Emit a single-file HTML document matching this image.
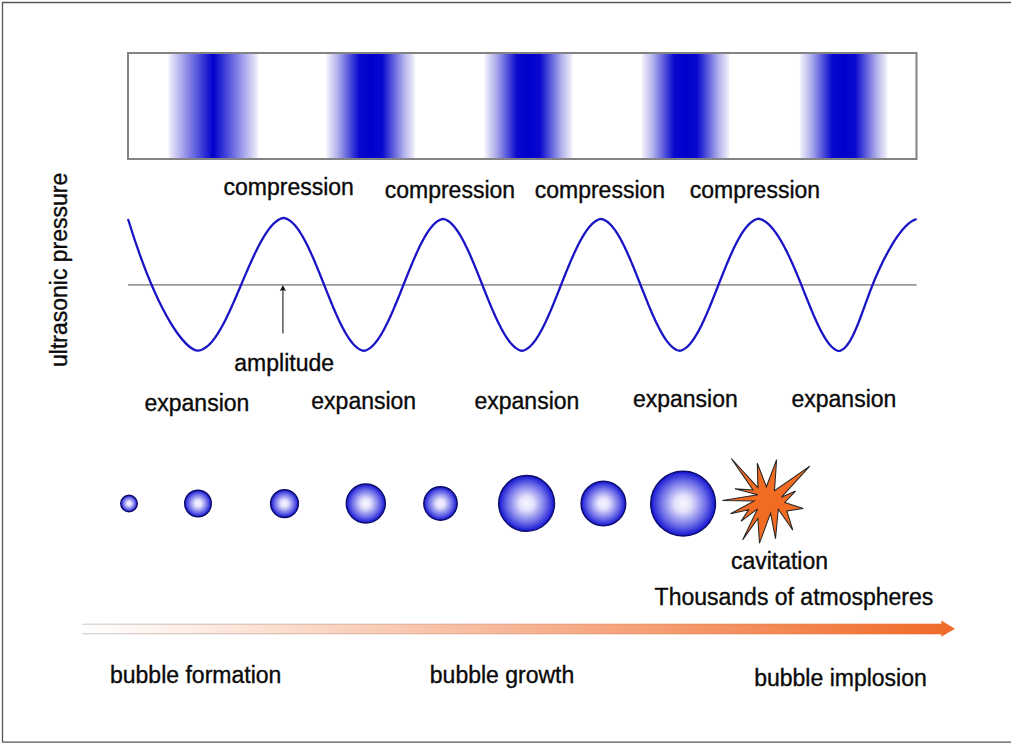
<!DOCTYPE html>
<html><head><meta charset="utf-8">
<style>
html,body{margin:0;padding:0;background:#fff;}
body{width:1011px;height:744px;overflow:hidden;position:relative;}
svg{position:absolute;left:0;top:0;}
text{font-family:"Liberation Sans", sans-serif;font-size:23px;fill:#0a0a0a;stroke:#0a0a0a;stroke-width:0.35px;}
</style></head><body>
<svg width="1011" height="744" viewBox="0 0 1011 744">
<defs>
<linearGradient id="b1" x1="0" x2="1" y1="0" y2="0">
<stop offset="0" stop-color="#f2f0fb"/><stop offset="0.5" stop-color="#0000cc"/><stop offset="1" stop-color="#f2f0fb"/>
</linearGradient>
<linearGradient id="b2" x1="0" x2="1" y1="0" y2="0">
<stop offset="0" stop-color="#f4f2fb"/><stop offset="0.12" stop-color="#b4b4ec"/><stop offset="0.25" stop-color="#5a5adc"/><stop offset="0.37" stop-color="#0808cf"/><stop offset="0.5" stop-color="#0000cc"/><stop offset="0.63" stop-color="#0808cf"/><stop offset="0.75" stop-color="#5a5adc"/><stop offset="0.88" stop-color="#b4b4ec"/><stop offset="1" stop-color="#f4f2fb"/>
</linearGradient>
<radialGradient id="bub" cx="0.5" cy="0.5" r="0.5">
<stop offset="0" stop-color="#f8f6ff"/><stop offset="0.25" stop-color="#e4e2fb"/><stop offset="0.7" stop-color="#6d6de8"/><stop offset="1" stop-color="#1414d2"/>
</radialGradient>
<linearGradient id="arr" x1="82" x2="955" y1="0" y2="0" gradientUnits="userSpaceOnUse">
<stop offset="0" stop-color="#ffffff"/><stop offset="1" stop-color="#f06a28"/>
</linearGradient>
<linearGradient id="arrl" x1="82" x2="941" y1="0" y2="0" gradientUnits="userSpaceOnUse">
<stop offset="0" stop-color="#c8c8c8"/><stop offset="0.5" stop-color="#e0a890"/><stop offset="1" stop-color="#f06a28"/>
</linearGradient>
</defs>
<!-- page border -->
<path d="M2.5 742.6 L2.5 2.5 L1011 2.5 M2.5 742.1 L1011 742.1" fill="none" stroke="#555" stroke-width="1.3"/>
<!-- pressure box bands -->
<rect x="168.6" y="54" width="89.3" height="104" fill="url(#b1)"/>
<rect x="326.4" y="54" width="88.6" height="104" fill="url(#b2)"/>
<rect x="484.5" y="54" width="88" height="104" fill="url(#b2)"/>
<rect x="641.9" y="54" width="87.5" height="104" fill="url(#b2)"/>
<rect x="799.9" y="54" width="87.5" height="104" fill="url(#b2)"/>
<rect x="128" y="53" width="788.5" height="106" fill="none" stroke="#838383" stroke-width="2"/>
<!-- compression labels -->
<text x="223.5" y="194.5">compression</text>
<text x="384.7" y="197.9">compression</text>
<text x="534.7" y="197.9">compression</text>
<text x="689.7" y="197.9">compression</text>
<!-- axis -->
<line x1="128" y1="284.8" x2="916.7" y2="284.8" stroke="#999" stroke-width="1.8"/>
<!-- wave -->
<path d="M128 219 C158.55 318.35 186.4 350.6 198.4 350.6 L199.15 350.45 L199.90 350.27 L200.65 350.05 L201.40 349.78 L202.15 349.48 L202.90 349.13 L203.65 348.74 L204.40 348.31 L205.15 347.83 L205.90 347.31 L206.65 346.75 L207.40 346.15 L208.15 345.50 L208.90 344.81 L209.65 344.08 L210.40 343.31 L211.15 342.50 L211.90 341.64 L212.65 340.75 L213.40 339.81 L214.15 338.84 L214.90 337.83 L215.65 336.77 L216.40 335.68 L217.15 334.56 L217.90 333.39 L218.65 332.19 L219.40 330.96 L220.15 329.69 L220.90 328.39 L221.65 327.06 L222.40 325.69 L223.15 324.29 L223.90 322.87 L224.65 321.42 L225.40 319.93 L226.15 318.43 L226.90 316.89 L227.65 315.34 L228.40 313.76 L229.15 312.16 L229.90 310.54 L230.65 308.90 L231.40 307.24 L232.15 305.57 L232.90 303.88 L233.65 302.17 L234.40 300.46 L235.15 298.73 L235.90 297.00 L236.65 295.25 L237.40 293.50 L238.15 291.74 L238.90 289.98 L239.65 288.22 L240.40 286.45 L241.15 284.68 L241.90 282.92 L242.65 281.15 L243.40 279.39 L244.15 277.63 L244.90 275.88 L245.65 274.13 L246.40 272.40 L247.15 270.67 L247.90 268.95 L248.65 267.24 L249.40 265.54 L250.15 263.86 L250.90 262.19 L251.65 260.53 L252.40 258.89 L253.15 257.27 L253.90 255.67 L254.65 254.09 L255.40 252.53 L256.15 250.99 L256.90 249.48 L257.65 247.99 L258.40 246.52 L259.15 245.08 L259.90 243.67 L260.65 242.28 L261.40 240.93 L262.15 239.60 L262.90 238.31 L263.65 237.04 L264.40 235.81 L265.15 234.62 L265.90 233.46 L266.65 232.33 L267.40 231.24 L268.15 230.19 L268.90 229.17 L269.65 228.20 L270.40 227.26 L271.15 226.36 L271.90 225.51 L272.65 224.69 L273.40 223.92 L274.15 223.19 L274.90 222.51 L275.65 221.86 L276.40 221.27 L277.15 220.71 L277.90 220.21 L278.65 219.75 L279.40 219.34 L280.15 218.97 L280.90 218.65 L281.65 218.38 L282.40 218.16 L283.15 217.98 L283.90 217.95 L284.65 218.12 L285.40 218.33 L286.15 218.60 L286.90 218.91 L287.65 219.27 L288.40 219.69 L289.15 220.15 L289.90 220.66 L290.65 221.22 L291.40 221.83 L292.15 222.49 L292.90 223.19 L293.65 223.95 L294.40 224.75 L295.15 225.60 L295.90 226.49 L296.65 227.43 L297.40 228.42 L298.15 229.45 L298.90 230.53 L299.65 231.64 L300.40 232.80 L301.15 234.01 L301.90 235.25 L302.65 236.53 L303.40 237.85 L304.15 239.21 L304.90 240.61 L305.65 242.04 L306.40 243.50 L307.15 245.00 L307.90 246.53 L308.65 248.09 L309.40 249.68 L310.15 251.30 L310.90 252.95 L311.65 254.62 L312.40 256.32 L313.15 258.03 L313.90 259.78 L314.65 261.54 L315.40 263.31 L316.15 265.11 L316.90 266.92 L317.65 268.75 L318.40 270.59 L319.15 272.43 L319.90 274.29 L320.65 276.16 L321.40 278.03 L322.15 279.91 L322.90 281.79 L323.65 283.67 L324.40 285.55 L325.15 287.43 L325.90 289.31 L326.65 291.19 L327.40 293.06 L328.15 294.93 L328.90 296.79 L329.65 298.64 L330.40 300.48 L331.15 302.31 L331.90 304.12 L332.65 305.91 L333.40 307.69 L334.15 309.46 L334.90 311.20 L335.65 312.92 L336.40 314.62 L337.15 316.29 L337.90 317.94 L338.65 319.56 L339.40 321.15 L340.15 322.71 L340.90 324.24 L341.65 325.74 L342.40 327.21 L343.15 328.64 L343.90 330.03 L344.65 331.39 L345.40 332.71 L346.15 333.99 L346.90 335.23 L347.65 336.43 L348.40 337.58 L349.15 338.69 L349.90 339.76 L350.65 340.79 L351.40 341.77 L352.15 342.70 L352.90 343.58 L353.65 344.42 L354.40 345.21 L355.15 345.94 L355.90 346.63 L356.65 347.27 L357.40 347.86 L358.15 348.40 L358.90 348.89 L359.65 349.32 L360.40 349.71 L361.15 350.04 L361.90 350.32 L362.65 350.55 L363.40 350.73 L364.15 350.74 L364.90 350.56 L365.65 350.33 L366.40 350.05 L367.15 349.71 L367.90 349.33 L368.65 348.89 L369.40 348.41 L370.15 347.87 L370.90 347.28 L371.65 346.64 L372.40 345.95 L373.15 345.21 L373.90 344.43 L374.65 343.59 L375.40 342.71 L376.15 341.78 L376.90 340.81 L377.65 339.79 L378.40 338.72 L379.15 337.61 L379.90 336.46 L380.65 335.27 L381.40 334.04 L382.15 332.76 L382.90 331.45 L383.65 330.10 L384.40 328.71 L385.15 327.29 L385.90 325.83 L386.65 324.33 L387.40 322.81 L388.15 321.25 L388.90 319.67 L389.65 318.05 L390.40 316.41 L391.15 314.75 L391.90 313.05 L392.65 311.34 L393.40 309.60 L394.15 307.84 L394.90 306.07 L395.65 304.27 L396.40 302.46 L397.15 300.64 L397.90 298.80 L398.65 296.95 L399.40 295.09 L400.15 293.22 L400.90 291.34 L401.65 289.46 L402.40 287.57 L403.15 285.68 L403.90 283.79 L404.65 281.90 L405.40 280.02 L406.15 278.13 L406.90 276.25 L407.65 274.38 L408.40 272.52 L409.15 270.67 L409.90 268.83 L410.65 267.00 L411.40 265.19 L412.15 263.39 L412.90 261.61 L413.65 259.85 L414.40 258.11 L415.15 256.39 L415.90 254.70 L416.65 253.03 L417.40 251.38 L418.15 249.77 L418.90 248.18 L419.65 246.62 L420.40 245.10 L421.15 243.60 L421.90 242.15 L422.65 240.72 L423.40 239.33 L424.15 237.98 L424.90 236.67 L425.65 235.40 L426.40 234.17 L427.15 232.97 L427.90 231.83 L428.65 230.72 L429.40 229.66 L430.15 228.65 L430.90 227.68 L431.65 226.76 L432.40 225.88 L433.15 225.05 L433.90 224.28 L434.65 223.55 L435.40 222.87 L436.15 222.24 L436.90 221.66 L437.65 221.14 L438.40 220.66 L439.15 220.24 L439.90 219.87 L440.65 219.55 L441.40 219.29 L442.15 219.08 L442.90 218.92 L443.65 219.03 L444.40 219.23 L445.15 219.48 L445.90 219.78 L446.65 220.14 L447.40 220.55 L448.15 221.01 L448.90 221.52 L449.65 222.09 L450.40 222.71 L451.15 223.38 L451.90 224.10 L452.65 224.87 L453.40 225.69 L454.15 226.55 L454.90 227.47 L455.65 228.44 L456.40 229.45 L457.15 230.50 L457.90 231.61 L458.65 232.75 L459.40 233.94 L460.15 235.18 L460.90 236.45 L461.65 237.77 L462.40 239.12 L463.15 240.51 L463.90 241.94 L464.65 243.40 L465.40 244.90 L466.15 246.44 L466.90 248.00 L467.65 249.60 L468.40 251.22 L469.15 252.87 L469.90 254.55 L470.65 256.26 L471.40 257.98 L472.15 259.73 L472.90 261.50 L473.65 263.29 L474.40 265.10 L475.15 266.92 L475.90 268.76 L476.65 270.61 L477.40 272.47 L478.15 274.34 L478.90 276.22 L479.65 278.11 L480.40 280.00 L481.15 281.89 L481.90 283.79 L482.65 285.68 L483.40 287.58 L484.15 289.47 L484.90 291.35 L485.65 293.23 L486.40 295.10 L487.15 296.96 L487.90 298.82 L488.65 300.65 L489.40 302.48 L490.15 304.29 L490.90 306.08 L491.65 307.86 L492.40 309.61 L493.15 311.34 L493.90 313.06 L494.65 314.75 L495.40 316.41 L496.15 318.05 L496.90 319.66 L497.65 321.24 L498.40 322.79 L499.15 324.32 L499.90 325.80 L500.65 327.26 L501.40 328.68 L502.15 330.07 L502.90 331.42 L503.65 332.73 L504.40 334.00 L505.15 335.24 L505.90 336.43 L506.65 337.58 L507.40 338.69 L508.15 339.75 L508.90 340.77 L509.65 341.75 L510.40 342.68 L511.15 343.56 L511.90 344.40 L512.65 345.19 L513.40 345.93 L514.15 346.62 L514.90 347.26 L515.65 347.86 L516.40 348.40 L517.15 348.89 L517.90 349.33 L518.65 349.71 L519.40 350.05 L520.15 350.33 L520.90 350.56 L521.65 350.74 L522.40 350.73 L523.15 350.54 L523.90 350.31 L524.65 350.02 L525.40 349.68 L526.15 349.29 L526.90 348.84 L527.65 348.34 L528.40 347.78 L529.15 347.18 L529.90 346.52 L530.65 345.81 L531.40 345.05 L532.15 344.24 L532.90 343.38 L533.65 342.46 L534.40 341.50 L535.15 340.50 L535.90 339.44 L536.65 338.34 L537.40 337.19 L538.15 336.00 L538.90 334.77 L539.65 333.49 L540.40 332.17 L541.15 330.81 L541.90 329.41 L542.65 327.98 L543.40 326.50 L544.15 325.00 L544.90 323.46 L545.65 321.88 L546.40 320.28 L547.15 318.64 L547.90 316.98 L548.65 315.29 L549.40 313.58 L550.15 311.84 L550.90 310.08 L551.65 308.30 L552.40 306.50 L553.15 304.68 L553.90 302.85 L554.65 301.00 L555.40 299.15 L556.15 297.28 L556.90 295.40 L557.65 293.52 L558.40 291.62 L559.15 289.73 L559.90 287.83 L560.65 285.94 L561.40 284.04 L562.15 282.15 L562.90 280.26 L563.65 278.38 L564.40 276.50 L565.15 274.63 L565.90 272.77 L566.65 270.92 L567.40 269.09 L568.15 267.27 L568.90 265.47 L569.65 263.68 L570.40 261.91 L571.15 260.16 L571.90 258.43 L572.65 256.72 L573.40 255.04 L574.15 253.38 L574.90 251.75 L575.65 250.15 L576.40 248.57 L577.15 247.03 L577.90 245.51 L578.65 244.03 L579.40 242.58 L580.15 241.16 L580.90 239.78 L581.65 238.44 L582.40 237.13 L583.15 235.86 L583.90 234.63 L584.65 233.44 L585.40 232.29 L586.15 231.19 L586.90 230.12 L587.65 229.10 L588.40 228.13 L589.15 227.20 L589.90 226.31 L590.65 225.47 L591.40 224.68 L592.15 223.93 L592.90 223.24 L593.65 222.59 L594.40 221.99 L595.15 221.44 L595.90 220.94 L596.65 220.49 L597.40 220.09 L598.15 219.75 L598.90 219.45 L599.65 219.21 L600.40 219.02 L601.15 218.93 L601.90 219.09 L602.65 219.30 L603.40 219.57 L604.15 219.88 L604.90 220.25 L605.65 220.67 L606.40 221.15 L607.15 221.67 L607.90 222.25 L608.65 222.87 L609.40 223.55 L610.15 224.27 L610.90 225.05 L611.65 225.87 L612.40 226.74 L613.15 227.66 L613.90 228.62 L614.65 229.64 L615.40 230.69 L616.15 231.79 L616.90 232.94 L617.65 234.13 L618.40 235.36 L619.15 236.63 L619.90 237.94 L620.65 239.28 L621.40 240.67 L622.15 242.09 L622.90 243.55 L623.65 245.05 L624.40 246.57 L625.15 248.13 L625.90 249.72 L626.65 251.34 L627.40 252.99 L628.15 254.66 L628.90 256.36 L629.65 258.08 L630.40 259.83 L631.15 261.60 L631.90 263.38 L632.65 265.19 L633.40 267.01 L634.15 268.85 L634.90 270.70 L635.65 272.56 L636.40 274.44 L637.15 276.32 L637.90 278.21 L638.65 280.11 L639.40 282.01 L640.15 283.91 L640.90 285.82 L641.65 287.72 L642.40 289.62 L643.15 291.52 L643.90 293.42 L644.65 295.30 L645.40 297.18 L646.15 299.05 L646.90 300.91 L647.65 302.76 L648.40 304.59 L649.15 306.40 L649.90 308.20 L650.65 309.97 L651.40 311.73 L652.15 313.46 L652.90 315.17 L653.65 316.86 L654.40 318.52 L655.15 320.15 L655.90 321.75 L656.65 323.32 L657.40 324.86 L658.15 326.36 L658.90 327.83 L659.65 329.26 L660.40 330.66 L661.15 332.02 L661.90 333.34 L662.65 334.61 L663.40 335.85 L664.15 337.04 L664.90 338.19 L665.65 339.30 L666.40 340.36 L667.15 341.37 L667.90 342.33 L668.65 343.25 L669.40 344.12 L670.15 344.94 L670.90 345.71 L671.65 346.43 L672.40 347.09 L673.15 347.71 L673.90 348.27 L674.65 348.78 L675.40 349.24 L676.15 349.64 L676.90 349.99 L677.65 350.28 L678.40 350.53 L679.15 350.71 L679.90 350.75 L680.65 350.57 L681.40 350.34 L682.15 350.06 L682.90 349.72 L683.65 349.33 L684.40 348.88 L685.15 348.38 L685.90 347.83 L686.65 347.22 L687.40 346.56 L688.15 345.85 L688.90 345.08 L689.65 344.27 L690.40 343.40 L691.15 342.48 L691.90 341.52 L692.65 340.50 L693.40 339.44 L694.15 338.33 L694.90 337.18 L695.65 335.98 L696.40 334.73 L697.15 333.45 L697.90 332.12 L698.65 330.75 L699.40 329.34 L700.15 327.90 L700.90 326.42 L701.65 324.90 L702.40 323.35 L703.15 321.77 L703.90 320.15 L704.65 318.51 L705.40 316.84 L706.15 315.14 L706.90 313.42 L707.65 311.67 L708.40 309.90 L709.15 308.11 L709.90 306.31 L710.65 304.48 L711.40 302.64 L712.15 300.79 L712.90 298.93 L713.65 297.05 L714.40 295.17 L715.15 293.28 L715.90 291.38 L716.65 289.49 L717.40 287.59 L718.15 285.69 L718.90 283.79 L719.65 281.89 L720.40 279.99 L721.15 278.10 L721.90 276.22 L722.65 274.34 L723.40 272.47 L724.15 270.61 L724.90 268.77 L725.65 266.93 L726.40 265.11 L727.15 263.31 L727.90 261.53 L728.65 259.77 L729.40 258.03 L730.15 256.31 L730.90 254.62 L731.65 252.95 L732.40 251.30 L733.15 249.69 L733.90 248.11 L734.65 246.56 L735.40 245.04 L736.15 243.55 L736.90 242.10 L737.65 240.68 L738.40 239.30 L739.15 237.96 L739.90 236.65 L740.65 235.39 L741.40 234.17 L742.15 232.99 L742.90 231.85 L743.65 230.75 L744.40 229.70 L745.15 228.69 L745.90 227.73 L746.65 226.82 L747.40 225.95 L748.15 225.12 L748.90 224.35 L749.65 223.62 L750.40 222.94 L751.15 222.31 L751.90 221.73 L752.65 221.20 L753.40 220.71 L754.15 220.28 L754.90 219.89 L755.65 219.55 L756.40 219.26 L757.15 219.02 L757.90 218.83 L758.65 218.71 L759.40 218.85 L760.15 219.05 L760.90 219.29 L761.65 219.57 L762.40 219.90 L763.15 220.28 L763.90 220.69 L764.65 221.16 L765.40 221.66 L766.15 222.21 L766.90 222.80 L767.65 223.43 L768.40 224.10 L769.15 224.81 L769.90 225.55 L770.65 226.34 L771.40 227.17 L772.15 228.03 L772.90 228.93 L773.65 229.87 L774.40 230.84 L775.15 231.85 L775.90 232.89 L776.65 233.97 L777.40 235.08 L778.15 236.23 L778.90 237.40 L779.65 238.61 L780.40 239.85 L781.15 241.13 L781.90 242.43 L782.65 243.76 L783.40 245.13 L784.15 246.52 L784.90 247.94 L785.65 249.39 L786.40 250.86 L787.15 252.36 L787.90 253.89 L788.65 255.45 L789.40 257.02 L790.15 258.63 L790.90 260.25 L791.65 261.90 L792.40 263.57 L793.15 265.27 L793.90 266.98 L794.65 268.71 L795.40 270.46 L796.15 272.23 L796.90 274.02 L797.65 275.82 L798.40 277.64 L799.15 279.48 L799.90 281.32 L800.65 283.18 L801.40 285.05 L802.15 286.93 L802.90 288.81 L803.65 290.69 L804.40 292.57 L805.15 294.45 L805.90 296.33 L806.65 298.21 L807.40 300.08 L808.15 301.94 L808.90 303.79 L809.65 305.63 L810.40 307.46 L811.15 309.27 L811.90 311.07 L812.65 312.85 L813.40 314.61 L814.15 316.34 L814.90 318.06 L815.65 319.74 L816.40 321.41 L817.15 323.04 L817.90 324.64 L818.65 326.21 L819.40 327.75 L820.15 329.25 L820.90 330.71 L821.65 332.14 L822.40 333.52 L823.15 334.86 L823.90 336.16 L824.65 337.42 L825.40 338.62 L826.15 339.78 L826.90 340.89 L827.65 341.95 L828.40 342.96 L829.15 343.92 L829.90 344.82 L830.65 345.66 L831.40 346.45 L832.15 347.18 L832.90 347.85 L833.65 348.46 L834.40 349.01 L835.15 349.50 L835.90 349.93 L836.65 350.29 L837.40 350.59 L838.15 350.83 L838.90 351.00 L839.65 350.83 L840.40 350.58 L841.15 350.27 L841.90 349.88 L842.65 349.42 L843.40 348.89 L844.15 348.27 L844.90 347.58 L845.65 346.81 L846.40 345.97 L847.15 345.04 L847.90 344.04 L848.65 342.96 L849.40 341.81 L850.15 340.58 L850.90 339.28 L851.65 337.91 L852.40 336.47 L853.15 334.97 L853.90 333.40 L854.65 331.77 L855.40 330.09 L856.15 328.35 L856.90 326.56 L857.65 324.72 L858.40 322.85 L859.15 320.93 L859.90 318.98 L860.65 317.00 L861.40 314.99 L862.15 312.96 L862.90 310.92 L863.65 308.86 L864.40 306.79 L865.15 304.72 L865.90 302.65 L866.65 300.58 L867.40 298.52 L868.15 296.48 L868.90 294.45 L869.65 292.44 L870.40 290.45 L871.15 288.50 L871.90 286.57 L872.65 284.67 L873.40 282.81 L874.15 280.98 L874.90 279.17 L875.65 277.39 L876.40 275.64 L877.15 273.92 L877.90 272.22 L878.65 270.55 L879.40 268.91 L880.15 267.30 L880.90 265.71 L881.65 264.14 L882.40 262.60 L883.15 261.09 L883.90 259.59 L884.65 258.12 L885.40 256.68 L886.15 255.25 L886.90 253.85 L887.65 252.47 L888.40 251.11 L889.15 249.77 L889.90 248.45 L890.65 247.15 L891.40 245.86 L892.15 244.60 L892.90 243.36 L893.65 242.14 L894.40 240.93 L895.15 239.75 L895.90 238.60 L896.65 237.49 L897.40 236.41 L898.15 235.36 L898.90 234.34 L899.65 233.35 L900.40 232.38 L901.15 231.44 L901.90 230.51 L902.65 229.61 L903.40 228.74 L904.15 227.90 L904.90 227.09 L905.65 226.31 L906.40 225.57 L907.15 224.86 L907.90 224.19 L908.65 223.55 L909.40 222.94 L910.15 222.38 L910.90 221.85 L911.65 221.36 L912.40 220.91 L913.15 220.50 L913.90 220.12 L914.65 219.79 L915.40 219.50 L916.15 219.25 L916.70 219.10" fill="none" stroke="#1a14c4" stroke-width="2.3" stroke-linejoin="round"/>
<!-- amplitude arrow -->
<line x1="282.9" y1="333.6" x2="282.9" y2="290" stroke="#333" stroke-width="1.25"/>
<path d="M282.9 285 L286 291 L282.9 290 L279.8 291 Z" fill="#111"/>
<text x="234.3" y="370.7">amplitude</text>
<text transform="translate(66.8 367) rotate(-90)" x="0" y="0">ultrasonic pressure</text>
<!-- expansion labels -->
<text x="144.5" y="411.2">expansion</text>
<text x="311.3" y="409.1">expansion</text>
<text x="474.5" y="408.5">expansion</text>
<text x="632.9" y="406.5">expansion</text>
<text x="791.5" y="406.5">expansion</text>
<!-- bubbles -->
<g fill="url(#bub)" stroke="#0c0c6a" stroke-width="1.4">
<circle cx="129" cy="503.5" r="8.3"/>
<circle cx="198" cy="503.5" r="13.3"/>
<circle cx="284.5" cy="503.6" r="13.9"/>
<circle cx="365.8" cy="503.5" r="19.5"/>
<circle cx="440.5" cy="503.5" r="16.7"/>
<circle cx="526.6" cy="503.4" r="27.9"/>
<circle cx="603.4" cy="503.6" r="22.3"/>
<circle cx="683.1" cy="503.6" r="32.4"/>
</g>
<!-- star -->
<polygon fill="#f26b22" stroke="#262626" stroke-width="1.05" stroke-linejoin="miter" points="731.3,458.5 757.9,487.5 757.3,463.3 766.4,486.7 776.6,459.7 774.5,490.7 809.8,466.1 781.5,497.2 795.6,491.1 784.8,502.4 803.3,508.5 786.8,510.9 792.8,530.2 778.3,509.3 775.5,538.7 770.6,513.1 759.5,543.1 757.9,518.5 742.6,539.9 757.5,508.9 741,521.4 748.6,509.7 730.5,513.7 754.2,501 722.4,500.4 757.9,494.7 734.9,488.7 753,489.9"/>
<text x="730.9" y="568.9">cavitation</text>
<text x="654.6" y="605">Thousands of atmospheres</text>
<!-- big arrow -->
<polygon points="82,624 941.3,624 941.3,620.4 955,628.7 941.3,636.8 941.3,634 82,634" fill="url(#arr)"/>
<path d="M82 624.2 H941 M82 633.8 H941" stroke="url(#arrl)" stroke-width="1"/>
<text x="110" y="683">bubble formation</text>
<text x="429.8" y="683.2">bubble growth</text>
<text x="754.2" y="685.6">bubble implosion</text>
</svg>
</body></html>
